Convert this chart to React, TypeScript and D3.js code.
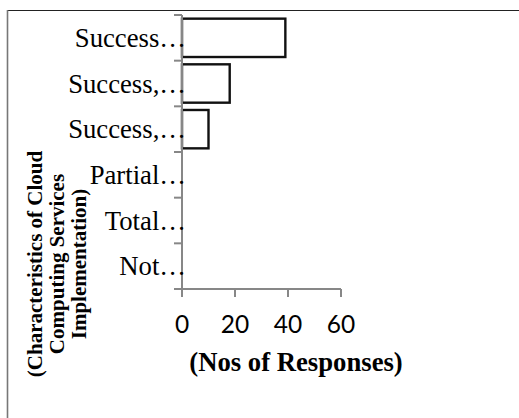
import React from "react";
import * as d3 from "d3";

// Characteristics of cloud computing services implementation (truncated labels, top to bottom)
const categories: string[] = ["Success…", "Success,…", "Success,…", "Partial…", "Total…", "Not…"];
// Number of responses per characteristic
const responses: number[] = [39, 18, 10, 0, 0, 0];
// X axis ticks
const xTicks: number[] = [0, 20, 40, 60];

const W = 519;
const H = 418;
const plot = { left: 182, right: 341, top: 15, bottom: 289 };
const axisColor = "#878787";

export default function App() {
  const x = d3.scaleLinear().domain([0, 60]).range([plot.left, plot.right]);
  const y = d3
    .scaleBand<number>()
    .domain(categories.map((_, i) => i))
    .range([plot.top, plot.bottom])
    .paddingInner(0.16)
    .paddingOuter(0.08);
  const band = (plot.bottom - plot.top) / categories.length;
  const bandEdges = d3.range(categories.length + 1).map((i) => plot.top + i * band);

  return (
    <svg
      width={W}
      height={H}
      style={{ position: "absolute", left: 0, top: 0, background: "#fff" }}
    >
      {/* chart frame */}
      <line x1={7} y1={10.5} x2={W} y2={10.5} stroke="#222" strokeWidth={1} />
      <line x1={7.5} y1={10} x2={7.5} y2={H} stroke="#777" strokeWidth={1.6} />

      {/* bars */}
      {responses.map((v, i) =>
        v > 0 ? (
          <rect
            key={i}
            x={x(0)}
            y={y(i)!}
            width={x(v) - x(0)}
            height={y.bandwidth()}
            fill="#fff"
            stroke="#111"
            strokeWidth={2.4}
          />
        ) : null
      )}

      {/* category axis */}
      <line x1={plot.left} y1={plot.top} x2={plot.left} y2={plot.bottom + 8} stroke={axisColor} strokeWidth={2} />
      {bandEdges.map((yy, i) => (
        <line key={i} x1={plot.left - 8} y1={yy} x2={plot.left} y2={yy} stroke={axisColor} strokeWidth={2} />
      ))}
      {categories.map((c, i) => (
        <text
          key={i}
          x={plot.left + 4}
          y={plot.top + (i + 0.5) * band + 9}
          textAnchor="end"
          fontFamily="'Liberation Serif', 'Times New Roman', serif"
          fontSize={26.7}
          fill="#000"
        >
          {c}
        </text>
      ))}

      {/* value axis */}
      <line x1={plot.left - 8} y1={plot.bottom} x2={plot.right} y2={plot.bottom} stroke={axisColor} strokeWidth={2} />
      {xTicks.map((t) => (
        <g key={t}>
          <line x1={x(t)} y1={plot.bottom} x2={x(t)} y2={plot.bottom + 8} stroke={axisColor} strokeWidth={2} />
          <text
            x={x(t)}
            y={332.5}
            textAnchor="middle"
            fontFamily="Lato, 'Open Sans', sans-serif"
            fontSize={24.5}
            fill="#000"
          >
            {t}
          </text>
        </g>
      ))}

      {/* axis titles */}
      <text
        x={296}
        y={371}
        textAnchor="middle"
        fontFamily="'Liberation Serif', 'Times New Roman', serif"
        fontWeight="bold"
        fontSize={26.7}
        fill="#000"
      >
        (Nos of Responses)
      </text>
      <g transform="translate(0,264) rotate(-90)">
        {["(Characteristics of Cloud", "Computing Services", "Implementation)"].map((line, i) => (
          <text
            key={i}
            x={0}
            y={41.5 + i * 22}
            textAnchor="middle"
            fontFamily="'Liberation Serif', 'Times New Roman', serif"
            fontWeight="bold"
            fontSize={21}
            fill="#000"
          >
            {line}
          </text>
        ))}
      </g>
    </svg>
  );
}
